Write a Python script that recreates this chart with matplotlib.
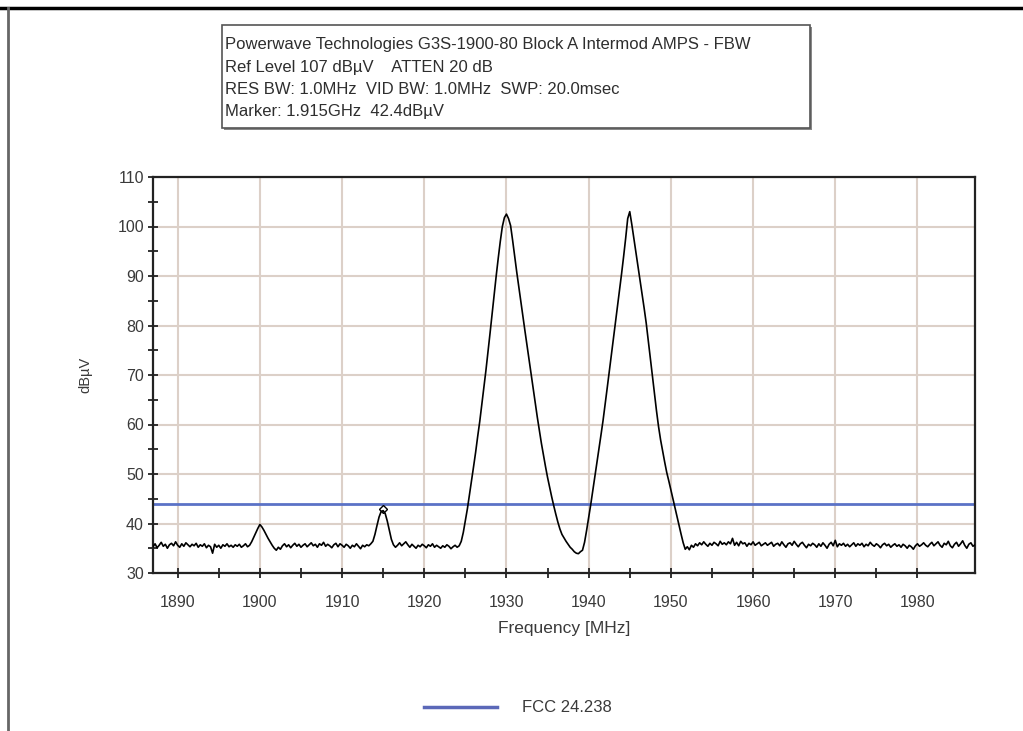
#!/usr/bin/env python3
# Spectrum analyzer plot - intermod, block A
import numpy as np
import matplotlib
matplotlib.use("Agg")
from matplotlib import pyplot as plt
from matplotlib.lines import Line2D
from matplotlib.patches import Rectangle

plt.rcParams['font.family'] = ['Liberation Sans', 'DejaVu Sans']

## Data ########################################################################
START_MHZ = 1887.0
STEP_MHZ = 0.25
# trace level in dBuV, one value every 0.25 MHz, 5 MHz per list
lvl_1887 = [35.3, 35.9, 35.1, 35.6, 36.2, 35.4, 35.8, 35.0, 35.7, 36.0,
            35.5, 36.3, 35.6, 35.2, 35.9, 35.4, 36.1, 35.7, 35.3, 35.8]
lvl_1892 = [35.5, 36.0, 35.2, 35.7, 35.4, 35.9, 35.1, 35.6, 35.3, 34.0,
            35.8, 35.2, 35.6, 35.0, 35.7, 35.4, 35.9, 35.3, 35.6, 35.2]
lvl_1897 = [35.7, 35.4, 35.8, 35.2, 35.5, 35.9, 35.3, 35.6, 36.3, 37.2,
            38.1, 39.0, 39.8, 39.3, 38.6, 37.8, 37.0, 36.3, 35.6, 35.0]
lvl_1902 = [34.6, 35.2, 34.8, 35.5, 35.9, 35.3, 35.7, 35.1, 35.6, 36.0,
            35.4, 35.8, 35.2, 35.6, 35.9, 35.3, 35.7, 36.1, 35.5, 35.8]
lvl_1907 = [35.2, 35.9, 35.6, 36.2, 35.4, 35.8, 35.5, 35.1, 35.7, 36.0,
            35.3, 35.9, 35.6, 35.2, 35.8, 35.5, 35.0, 35.6, 35.3, 35.9]
lvl_1912 = [35.4, 34.9, 35.6, 35.3, 35.7, 35.5, 35.9, 36.4, 37.8, 39.6,
            41.3, 42.4, 42.6, 42.0, 40.5, 38.6, 36.8, 35.7, 35.2, 35.6]
lvl_1917 = [36.1, 35.5, 35.9, 36.3, 35.7, 35.2, 35.8, 35.4, 35.0, 35.6,
            35.3, 35.8, 35.5, 35.1, 35.7, 35.4, 35.9, 35.2, 35.6, 35.3]
lvl_1922 = [35.0, 35.5, 35.2, 35.7, 35.4, 34.9, 35.3, 35.6, 35.2, 35.5,
            36.4, 38.2, 40.6, 43.0, 45.8, 48.6, 51.5, 54.4, 57.6, 60.6]
lvl_1927 = [64.0, 67.4, 70.9, 74.6, 78.4, 82.3, 86.2, 90.0, 93.6, 97.0,
            100.0, 101.8, 102.5, 101.6, 100.2, 97.2, 94.0, 90.8, 87.8, 84.8]
lvl_1932 = [81.8, 78.9, 76.0, 73.1, 70.2, 67.3, 64.4, 61.5, 58.8, 56.2,
            53.8, 51.5, 49.3, 47.3, 45.4, 43.6, 41.9, 40.3, 38.9, 37.8]
lvl_1937 = [37.1, 36.4, 35.8, 35.2, 34.8, 34.3, 34.0, 33.9, 34.3, 34.6,
            36.2, 38.6, 41.2, 43.8, 46.6, 49.4, 52.2, 55.0, 57.9, 60.8]
lvl_1942 = [64.0, 67.3, 70.6, 73.9, 77.2, 80.5, 83.8, 87.1, 90.4, 93.9,
            97.6, 101.6, 103.0, 100.4, 97.6, 94.8, 92.0, 89.2, 86.4, 83.5]
lvl_1947 = [80.5, 77.0, 73.4, 69.9, 66.3, 62.8, 59.6, 56.9, 54.6, 52.4,
            50.3, 48.6, 46.8, 45.0, 43.2, 41.4, 39.6, 37.8, 36.1, 34.8]
lvl_1952 = [35.3, 34.7, 35.6, 35.2, 35.9, 35.5, 36.1, 35.7, 36.3, 35.8,
            35.4, 36.0, 35.6, 36.2, 35.9, 35.5, 36.4, 35.8, 36.1, 35.7]
lvl_1957 = [36.3, 35.9, 37.0, 35.6, 36.2, 35.5, 36.4, 35.9, 36.1, 35.4,
            36.0, 35.7, 36.3, 35.6, 35.9, 36.2, 35.5, 35.8, 36.1, 35.6]
lvl_1962 = [35.9, 36.2, 35.4, 35.8, 36.0, 35.5, 36.3, 35.7, 35.2, 35.9,
            36.1, 35.6, 36.4, 35.8, 35.3, 35.9, 36.2, 35.6, 35.1, 35.8]
lvl_1967 = [35.5, 36.0, 35.7, 35.2, 35.9, 35.4, 36.1, 35.6, 35.0, 35.8,
            36.2, 35.5, 36.6, 35.3, 35.9, 35.6, 36.0, 35.4, 35.8, 35.3]
lvl_1972 = [35.7, 36.1, 35.4, 35.9, 35.6, 36.0, 35.3, 35.8, 35.5, 36.2,
            35.7, 35.4, 35.9, 35.6, 35.1, 35.7, 36.0, 35.5, 35.8, 35.2]
lvl_1977 = [35.6, 35.9, 35.4, 35.7, 35.2, 35.8, 35.5, 35.0, 35.6, 35.3,
            34.8, 35.5, 35.9, 35.4, 35.7, 36.1, 35.6, 35.3, 35.8, 36.2]
lvl_1982 = [35.5, 35.9, 36.3, 35.6, 35.2, 36.0, 35.7, 36.4, 35.5, 35.1,
            35.8, 36.2, 35.4, 35.9, 36.5, 35.6, 35.0, 35.8, 36.1, 35.4,
            35.7]

FCC_LIMIT = 44.0
MARKER_MHZ = 1915.0
MARKER_DBUV = 42.4

info_lines = ["Powerwave Technologies G3S-1900-80 Block A Intermod AMPS - FBW",
              "Ref Level 107 dB\u00b5V    ATTEN 20 dB",
              "RES BW: 1.0MHz  VID BW: 1.0MHz  SWP: 20.0msec",
              "Marker: 1.915GHz  42.4dB\u00b5V"]

x_ticks = [1890, 1900, 1910, 1920, 1930, 1940, 1950, 1960, 1970, 1980]
y_ticks = [30, 40, 50, 60, 70, 80, 90, 100, 110]

## Plot ########################################################################
def main():
    level = np.array(lvl_1887 + lvl_1892 + lvl_1897 + lvl_1902 + lvl_1907 +
                     lvl_1912 + lvl_1917 + lvl_1922 + lvl_1927 + lvl_1932 +
                     lvl_1937 + lvl_1942 + lvl_1947 + lvl_1952 + lvl_1957 +
                     lvl_1962 + lvl_1967 + lvl_1972 + lvl_1977 + lvl_1982)
    freq = START_MHZ + STEP_MHZ * np.arange(len(level))

    W, H = 1023, 731
    fig = plt.figure(figsize=(W / 100, H / 100), dpi=100)
    ax = fig.add_axes([153 / W, 1 - 573 / H, (975 - 153) / W, (573 - 177) / H])

    ax.plot(freq, level, color='black', lw=1.2, zorder=3)
    ax.axhline(FCC_LIMIT, color='#5b72c6', lw=2.0, zorder=2)
    ax.plot([MARKER_MHZ], [MARKER_DBUV + 0.6], marker='D', ms=4.5, mfc='none',
            mec='black', mew=1.0, zorder=4)

    ax.set_xlim(1887, 1987)
    ax.set_ylim(30, 110)
    ax.set_xticks(x_ticks)
    ax.set_yticks(y_ticks)
    ax.set_xticks(np.array(x_ticks[:-1]) + 5, minor=True)
    ax.set_yticks(np.array(y_ticks[:-1]) + 5, minor=True)
    ax.grid(True, which='major', color='#dcd0c8', lw=1.5, zorder=0)
    ax.tick_params(which='both', direction='inout', length=7, width=1.3,
                   color='#222222', labelsize=11.5, labelcolor='#3a3a3a')
    ax.tick_params(axis='x', pad=12)
    ax.tick_params(axis='y', pad=3)
    for sp in ax.spines.values():
        sp.set_linewidth(1.6)
        sp.set_color('#222222')

    ax.set_xlabel("Frequency [MHz]", fontsize=12.5, color='#3a3a3a', labelpad=8)
    ax.set_ylabel("dB\u00b5V", fontsize=10.5, color='#3a3a3a', labelpad=18)

    # header box
    fig.patches.append(Rectangle((224 / W, 1 - 130 / H), (812 - 224) / W,
                                 (130 - 27) / H, transform=fig.transFigure,
                                 facecolor='#888888', edgecolor='none'))
    fig.patches.append(Rectangle((222 / W, 1 - 128 / H), (810 - 222) / W,
                                 (128 - 25) / H, transform=fig.transFigure,
                                 facecolor='white', edgecolor='#555555', lw=1.2))
    for i, line in enumerate(info_lines):
        fig.text(225 / W, 1 - (45 + 22.3 * i) / H, line, fontsize=12,
                 color='#2e2e2e', va='center', ha='left')

    # legend
    fig.lines.append(Line2D([424 / W, 497 / W], [1 - 707 / H, 1 - 707 / H],
                            color='#5b68b8', lw=2.5, transform=fig.transFigure))
    fig.text(522 / W, 1 - 707 / H, "FCC 24.238", fontsize=12,
             color='#3a3a3a', va='center', ha='left')

    # window frame (top and left edge)
    fig.lines.append(Line2D([0, 1], [1 - 8 / H, 1 - 8 / H], color='black',
                            lw=2.5, transform=fig.transFigure))
    fig.lines.append(Line2D([7.5 / W, 7.5 / W], [0, 1 - 8 / H], color='#666666',
                            lw=2.0, transform=fig.transFigure))

    fig.savefig("out.png", dpi=100)


if __name__ == '__main__':
    main()
